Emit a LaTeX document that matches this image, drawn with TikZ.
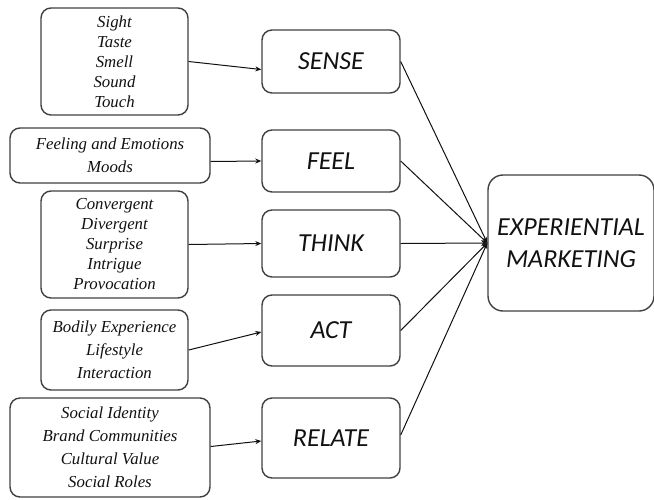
\documentclass[tikz,border=0pt]{standalone}
\usepackage{fontspec}
\setmainfont{Liberation Serif}
\newfontfamily\calib{Carlito}
\usetikzlibrary{arrows.meta}
\definecolor{boxline}{HTML}{404040}
\definecolor{txt}{HTML}{111111}
\begin{document}
\begin{tikzpicture}[x=1pt,y=-1pt,
  leftbox/.style={draw=boxline,line width=1.4pt,rounded corners=10pt,align=center,inner sep=0pt,text=txt},
  midbox/.style={draw=boxline,line width=1.4pt,rounded corners=10pt,align=center,inner sep=0pt,text=txt,
     minimum width=138pt,font=\calib\itshape\fontsize{26}{32}\selectfont},
  lfont/.style={font=\itshape\fontsize{16.8}{20}\selectfont},
  lfontw/.style={font=\itshape\fontsize{16.8}{23}\selectfont},
  arr/.style={draw=txt,line width=1pt,-{Stealth[length=6pt,width=5pt]}}]
\useasboundingbox (0,0) rectangle (654,499);
% left boxes
\node[leftbox,lfont,minimum width=147pt,minimum height=107pt] (sight) at (114.5,61.5)
  {Sight\\Taste\\Smell\\Sound\\Touch};
\node[leftbox,lfontw,minimum width=200pt,minimum height=55pt] (feeling) at (110,155.5)
  {Feeling and Emotions\\Moods};
\node[leftbox,lfont,minimum width=147pt,minimum height=107pt] (conv) at (114.5,244.5)
  {Convergent\\Divergent\\Surprise\\Intrigue\\Provocation};
\node[leftbox,lfontw,minimum width=147pt,minimum height=80pt] (bodily) at (114.5,350)
  {Bodily Experience\\Lifestyle\\Interaction};
\node[leftbox,lfontw,minimum width=200pt,minimum height=99pt] (social) at (110,447.5)
  {Social Identity\\Brand Communities\\Cultural Value\\Social Roles};
% middle boxes
\node[midbox,minimum height=63pt] (sense) at (331,61.5) {SENSE};
\node[midbox,minimum height=62pt] (feel) at (331,161) {FEEL};
\node[midbox,minimum height=67pt] (think) at (331,243.5) {THINK};
\node[midbox,minimum height=71pt] (act) at (331,330.5) {ACT};
\node[midbox,minimum height=80pt] (relate) at (331,438) {RELATE};
% right box
\node[midbox,minimum width=166pt,minimum height=136pt,rounded corners=15pt] (exp) at (571,243)
  {EXPERIENTIAL\\MARKETING};
% arrows left -> middle
\draw[arr] (sight.east) -- ([yshift=-8pt]sense.west);
\draw[arr] ([yshift=-6pt]feeling.east) -- (feel.west);
\draw[arr] (conv.east) -- (think.west);
\draw[arr] (bodily.east) -- ([yshift=-1.5pt]act.west);
\draw[arr] ([yshift=1pt]social.east) -- ([yshift=-3pt]relate.west);
% arrows middle -> right
\draw[arr] (sense.east) -- (exp.west);
\draw[arr] (feel.east) -- (exp.west);
\draw[arr] (think.east) -- (exp.west);
\draw[arr] (act.east) -- (exp.west);
\draw[arr] ([yshift=3pt]relate.east) -- (exp.west);
\end{tikzpicture}
\end{document}
